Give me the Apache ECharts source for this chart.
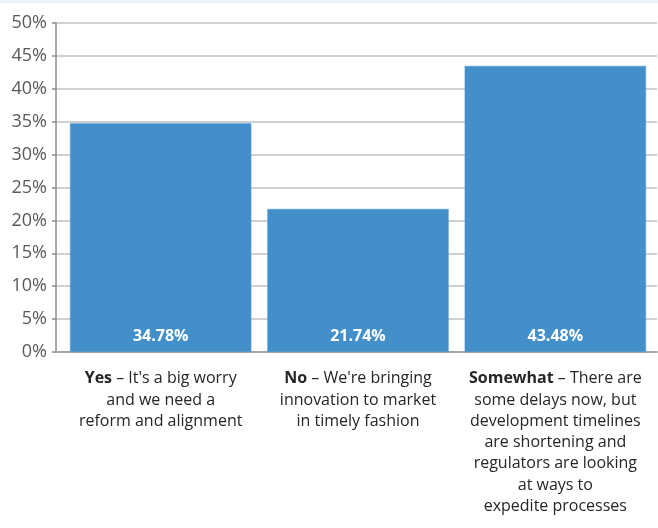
<!DOCTYPE html>
<html>
<head>
<meta charset="utf-8">
<script src="https://cdn.jsdelivr.net/npm/echarts@6/dist/echarts.min.js"></script>
<style>
  html, body { margin: 0; padding: 0; background: #ffffff; }
  #chart { width: 658px; height: 528px; }
</style>
</head>
<body>
<div id="chart"></div>
<script>
// Answer options: bold keyword plus the rest of the wrapped description
const answerKeys = ['Yes', 'No', 'Somewhat'];
const answerTexts = [
  " – It's a big worry\nand we need a\nreform and alignment",
  " – We're bringing\ninnovation to market\nin timely fashion",
  " – There are\nsome delays now, but\ndevelopment timelines\nare shortening and\nregulators are looking\nat ways to\nexpedite processes"
];
// Share of respondents (%)
const shares = [34.78, 21.74, 43.48];
// Value axis ticks (%)
const yTicks = [0, 5, 10, 15, 20, 25, 30, 35, 40, 45, 50];

const chart = echarts.init(document.getElementById('chart'));
const FONT = "'Open Sans', 'Noto Sans', sans-serif";
const yMin = yTicks[0];
const yMax = yTicks[yTicks.length - 1];
const yStep = yTicks[1] - yTicks[0];

chart.setOption({
  animation: false,
  backgroundColor: '#ffffff',
  graphic: [{
    type: 'rect',
    left: 0, top: 0,
    shape: { width: 658, height: 3 },
    style: { fill: '#e8f0f9' }
  }],
  grid: [
    // frame: value axis, gridlines and baseline
    { left: 56, right: 1, top: 23, bottom: 176, containLabel: false },
    // bars and category labels
    { left: 62, right: 4, top: 23, bottom: 176, containLabel: false }
  ],
  xAxis: [{
    type: 'category',
    gridIndex: 0,
    data: answerKeys,
    axisLine: { lineStyle: { color: '#a6a6a6', width: 2 } },
    axisTick: { show: false },
    axisLabel: { show: false }
  }, {
    type: 'category',
    gridIndex: 1,
    data: answerKeys,
    axisLine: { show: false },
    axisTick: { show: false },
    axisLabel: {
      interval: 0,
      margin: 16,
      lineHeight: 21.3,
      color: '#262626',
      fontFamily: FONT,
      fontSize: 16,
      align: 'center',
      formatter: function (value, idx) {
        const lines = answerTexts[idx].split('\n');
        return '{b|' + value + '}{n|' + lines[0] + '}\n' +
          lines.slice(1).map(l => '{n|' + l + '}').join('\n');
      },
      rich: {
        b: { fontWeight: 'bold', fontSize: 16, fontFamily: FONT, color: '#262626', lineHeight: 21.3 },
        n: { fontSize: 16, fontFamily: FONT, color: '#262626', lineHeight: 21.3 }
      }
    }
  }],
  yAxis: [{
    type: 'value',
    gridIndex: 0,
    min: yMin, max: yMax, interval: yStep,
    axisLine: { show: true, lineStyle: { color: '#8c8c8c', width: 1.5 } },
    axisTick: { show: true, length: 4, lineStyle: { color: '#8c8c8c', width: 1.5 } },
    axisLabel: {
      formatter: '{value}%',
      color: '#595959',
      fontFamily: FONT,
      fontSize: 18,
      margin: 9
    },
    splitLine: { lineStyle: { color: '#c0c0c0', width: 1.5 } }
  }, {
    type: 'value',
    gridIndex: 1,
    min: yMin, max: yMax, interval: yStep,
    axisLine: { show: false },
    axisTick: { show: false },
    axisLabel: { show: false },
    splitLine: { show: false }
  }],
  series: [{
    type: 'bar',
    xAxisIndex: 1,
    yAxisIndex: 1,
    data: shares,
    barCategoryGap: '8.1%',
    itemStyle: { color: '#428fca', borderColor: '#5a9fd4', borderWidth: 0.5 },
    label: {
      show: true,
      position: 'insideBottom',
      distance: 8,
      color: '#ffffff',
      fontWeight: 'bold',
      fontFamily: FONT,
      fontSize: 16,
      formatter: p => p.value.toFixed(2) + '%'
    }
  }]
});
</script>
</body>
</html>
